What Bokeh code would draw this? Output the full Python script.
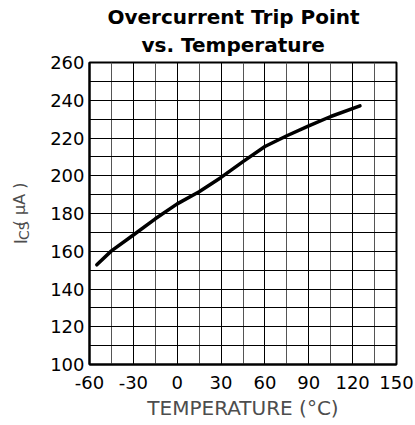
import math
from bokeh.plotting import figure
from bokeh.layouts import row
from bokeh.models import FixedTicker, Range1d, Title
from bokeh.core.properties import value
from bokeh.embed import file_html
from bokeh.resources import INLINE

# ---- data ----
temperature = [-55, -45, -30, -15, 0, 15, 30, 45, 60, 75, 90, 105, 125]
trip_current = [152.8, 160.2, 168.6, 177.2, 185.1, 191.5, 199.1, 207.5, 215.5, 221.2, 226.4, 231.4, 237.0]

x_ticks = [-60, -30, 0, 30, 60, 90, 120, 150]
x_minor = [-45, -15, 15, 45, 75, 105, 135]
y_ticks = [100, 120, 140, 160, 180, 200, 220, 240, 260]
y_minor = [110, 130, 150, 170, 190, 210, 230, 250]

title_lines = ["Overcurrent Trip Point", "vs. Temperature"]
x_label = "TEMPERATURE (\u00b0C)"
y_label_parts = ["I", "CS", "( \u00b5A )"]

FONT = "DejaVu Sans"
LABEL_COLOR = "#4d4d4d"
H = 422
LW = 44

# ---- main plot ----
p = figure(width=415 - LW, height=H,
           min_border_left=89 - LW, min_border_right=19,
           min_border_top=62, min_border_bottom=55,
           x_range=Range1d(x_ticks[0], x_ticks[-1]),
           y_range=Range1d(y_ticks[0], y_ticks[-1]),
           output_backend="svg", toolbar_location=None)

p.background_fill_color = "white"
p.border_fill_color = "white"
p.outline_line_color = "black"
p.outline_line_width = 2

p.xaxis.ticker = FixedTicker(ticks=x_ticks, minor_ticks=x_minor)
p.yaxis.ticker = FixedTicker(ticks=y_ticks, minor_ticks=y_minor)
p.xaxis.major_label_overrides = {t: str(t) for t in x_ticks}
for ax in (p.xaxis, p.yaxis):
    ax.axis_line_color = "black"
    ax.axis_line_width = 2
    ax.major_tick_in = 0
    ax.major_tick_out = 0
    ax.minor_tick_in = 0
    ax.minor_tick_out = 0
    ax.major_label_text_font = FONT
    ax.major_label_text_font_size = "18px"
    ax.major_label_text_color = "black"
p.xaxis.major_label_standoff = 11
p.yaxis.major_label_standoff = 5

p.xaxis.axis_label = x_label
p.xaxis.axis_label_text_font = FONT
p.xaxis.axis_label_text_font_size = "20px"
p.xaxis.axis_label_text_font_style = "normal"
p.xaxis.axis_label_text_color = LABEL_COLOR
p.xaxis.axis_label_standoff = 4

p.xgrid.grid_line_color = "black"
p.xgrid.grid_line_width = 1
p.xgrid.minor_grid_line_color = "#555555"
p.xgrid.minor_grid_line_width = 1
p.ygrid.grid_line_color = "black"
p.ygrid.grid_line_width = 1
p.ygrid.minor_grid_line_color = "black"
p.ygrid.minor_grid_line_width = 1

p.line(temperature, trip_current, line_color="black", line_width=3.5,
       line_cap="round", line_join="round")

# title: second line first (closest to the plot), then first line
p.add_layout(Title(text=title_lines[1], text_font=FONT, text_font_size="20px",
                   text_font_style="bold", text_color="black", align="left",
                   offset=52, standoff=12), "above")
p.add_layout(Title(text=title_lines[0], text_font=FONT, text_font_size="20px",
                   text_font_style="bold", text_color="black", align="left",
                   offset=18, standoff=-8), "above")

# ---- y axis title strip (I_CS (µA)) drawn as text in pixel coordinates ----
lab = figure(width=LW, height=H, x_range=Range1d(0, LW), y_range=Range1d(0, H),
             min_border=0, output_backend="svg", toolbar_location=None)
lab.axis.visible = False
lab.grid.visible = False
lab.outline_line_color = None
lab.background_fill_color = "white"
lab.border_fill_color = "white"
lab.text(x=[19.5], y=[H - 254], text=[y_label_parts[0]], angle=math.pi / 2,
         text_font=value(FONT), text_font_size=value("18px"), text_color=LABEL_COLOR,
         text_align="left", text_baseline="alphabetic")
lab.text(x=[23.5], y=[H - 248], text=[y_label_parts[1]], angle=math.pi / 2,
         text_font=value(FONT), text_font_size=value("14px"), text_color=LABEL_COLOR,
         text_align="left", text_baseline="alphabetic")
lab.text(x=[19.0], y=[H - 229], text=[y_label_parts[2]], angle=math.pi / 2,
         text_font=value(FONT), text_font_size=value("16px"), text_color=LABEL_COLOR,
         text_align="left", text_baseline="alphabetic")

layout = row(lab, p)
open("out.html", "w").write(file_html(layout, INLINE))
